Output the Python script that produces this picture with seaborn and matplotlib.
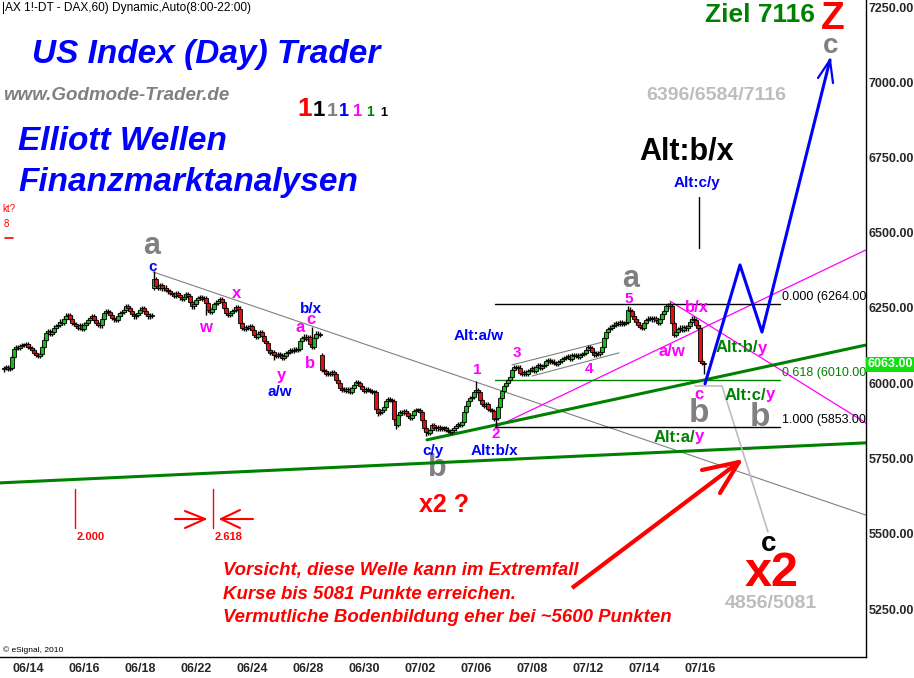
import numpy as np
import pandas as pd
import matplotlib
matplotlib.use("Agg")
import matplotlib.pyplot as plt
import seaborn as sns

sns.set_style("white")
plt.rcParams['font.family'] = ['Liberation Sans', 'DejaVu Sans']

# hourly closes, one value per 60 min bar
first_slot = 2
closes_june = [6050, 6055, 6048, 6052, 6088, 6115, 6120, 6118, 6124, 6128, 6126, 6130, 6122,
               6118, 6110, 6100, 6095, 6090, 6098, 6120, 6145, 6168, 6172, 6165, 6170, 6185,
               6190, 6195, 6205, 6200, 6215, 6225, 6228, 6215, 6200, 6196, 6190, 6185,
               6192, 6180, 6195, 6200, 6210, 6218, 6222, 6210, 6200, 6195, 6192, 6215, 6232,
               6240, 6236, 6228, 6218, 6212, 6210, 6225, 6232, 6238, 6245, 6255, 6250,
               6240, 6230, 6222, 6228, 6235, 6245, 6250, 6240, 6230, 6222, 6225, 6226]
closes_sept_a = [6345, 6322, 6318, 6325, 6315, 6318, 6310, 6305, 6300, 6296, 6290, 6300,
                 6292, 6285, 6280, 6288, 6295, 6290, 6270, 6255, 6262, 6275, 6282, 6285, 6280,
                 6284, 6265, 6245, 6238, 6248, 6262, 6268, 6272, 6280, 6270, 6250, 6235, 6228,
                 6232, 6240, 6245, 6252, 6248, 6200, 6184, 6180, 6188, 6185, 6190, 6178, 6160,
                 6155, 6165, 6170, 6158, 6140, 6135, 6110, 6100, 6104, 6095, 6090, 6098, 6094,
                 6085, 6092, 6100, 6105, 6110, 6108, 6112, 6110, 6115, 6140, 6150, 6155, 6148,
                 6152, 6130, 6120, 6150, 6165, 6162, 6160]
closes_sept_b = [6045, 6040, 6030, 6035, 6032, 6038, 6030, 6010, 6000, 5985, 5978, 5982, 5975,
                 5980, 5972, 5985, 5995, 6005, 6000, 5990, 5980, 5975, 5982, 5978, 5975, 5972,
                 5970, 5915, 5900, 5905, 5912, 5920, 5940, 5948, 5945, 5940, 5880, 5862, 5895,
                 5905, 5900, 5908, 5902, 5890, 5885, 5895, 5908, 5910, 5912, 5905, 5878, 5850,
                 5838, 5835, 5845, 5860, 5852, 5850, 5855, 5848, 5852, 5850, 5846, 5842, 5838,
                 5845, 5850, 5858, 5865, 5862, 5870, 5905, 5925, 5940, 5950, 5955, 5970, 5978,
                 5972, 5945, 5930, 5925, 5932, 5915, 5910, 5908, 5880, 5885, 5920, 5950, 5975,
                 5990, 6000, 6010, 6020, 6045, 6055, 6050, 6052, 6035, 6030, 6038, 6032, 6040,
                 6045, 6050, 6042, 6055, 6060, 6052, 6058, 6062, 6075, 6078, 6070, 6072, 6068,
                 6065, 6070, 6075, 6080, 6085, 6088, 6090, 6082, 6095, 6090, 6092, 6088, 6095,
                 6098, 6100, 6110, 6120, 6118, 6105, 6095, 6100, 6098, 6105, 6120, 6150, 6170,
                 6180, 6185, 6190, 6195, 6200, 6198, 6202, 6196, 6200, 6205, 6245, 6240, 6225,
                 6215, 6205, 6195, 6188, 6185, 6200, 6210, 6215, 6218, 6212, 6216, 6210, 6200,
                 6215, 6230, 6240, 6255, 6262, 6255, 6200, 6160, 6170, 6180, 6185, 6178, 6188,
                 6182, 6190, 6205, 6215, 6210, 6195, 6185, 6075, 6068, 6063]
first_open = 6046
gap_opens = {77: 6318, 161: 6094}
spike_highs = {77: 6372, 156: 6186, 238: 6006, 314: 6256, 334: 6268, 346: 6222}
spike_lows = {103: 6228, 137: 6078, 189: 5890, 198: 5848, 213: 5826, 248: 5858, 352: 6032}
wick = 7

tick_labels = ["06/14", "06/16", "06/18", "06/22", "06/24", "06/28", "06/30",
               "07/02", "07/06", "07/08", "07/12", "07/14", "07/16"]
price_ticks = [7250, 7000, 6750, 6500, 6250, 6000, 5750, 5500, 5250]
last_price = 6063

fib_ratios = ["0.000", "0.618", "1.000"]
fib_prices = [6264, 6010, 5853]
fib_colors = ["black", "#008000", "black"]

# projection path (blue) and alternative path (light grey)
proj_slots = [352.5, 370, 381, 415]
proj_prices = [5998, 6393, 6170, 7074]
alt_slots = [347.5, 361, 384]
alt_prices = [5991, 5991, 5506]

# trend lines: (slots, prices)
green_upper = ([213.5, 433], [5812, 6127])
green_lower = ([0, 433], [5669, 5802])
magenta_up = ([248, 433], [5855, 6443])
magenta_down = ([335, 433], [6273, 5868])
grey_down = ([76.5, 433], [6370, 5562])
channel_top = ([256, 301.5], [6061, 6137])
channel_bot = ([266, 309.5], [6024, 6101])

BLUE, MAG, GRN, RED, GREY, LGREY = "#0000FF", "#FF00FF", "#008000", "#FF0000", "#808080", "#BDBDBD"


def P(x, y):
    """pixel position on the 914x678 canvas -> (slot, price)"""
    return x / 2.0, 7250 - (y - 7) * 250 / 75.25


fig = plt.figure(figsize=(9.14, 6.78), dpi=100)
ax = fig.add_axes([0, 21 / 678, 866 / 914, 657 / 678])
ax.set_xlim(0, 433)
ax.set_ylim(P(0, 657)[1], P(0, 0)[1])

# candles
closes = np.array(closes_june + closes_sept_a + closes_sept_b, float)
slots = np.arange(first_slot, first_slot + len(closes))
opens = np.r_[first_open, closes[:-1]]
for s, o in gap_opens.items():
    opens[s - first_slot] = o
highs = np.maximum(opens, closes) + wick
lows = np.minimum(opens, closes) - wick
for s, h in spike_highs.items():
    highs[s - first_slot] = h
for s, l in spike_lows.items():
    lows[s - first_slot] = l
df = pd.DataFrame({"slot": slots, "open": opens, "close": closes, "high": highs, "low": lows})
df["bottom"] = df[["open", "close"]].min(axis=1)
df["height"] = (df["close"] - df["open"]).abs().clip(lower=3)
df["color"] = np.where(df["close"] >= df["open"], "#1DB81D", "#E01010")
ax.vlines(df["slot"], df["low"], df["high"], color="black", lw=1.0, zorder=3)
ax.bar(df["slot"], df["height"], bottom=df["bottom"], width=1.6, color=df["color"],
       edgecolor="black", linewidth=0.6, zorder=4)


def line(pts, color, lw, z=2):
    sns.lineplot(x=pts[0], y=pts[1], ax=ax, color=color, lw=lw, zorder=z, sort=False,
                 estimator=None)


line(grey_down, GREY, 0.8)
line(channel_top, GREY, 0.8)
line(channel_bot, GREY, 0.8)
line(magenta_up, MAG, 0.9)
line(magenta_down, MAG, 0.9)
line(green_upper, GRN, 2.2)
line(green_lower, GRN, 2.2)
line((alt_slots, alt_prices), LGREY, 1.2)
line((proj_slots, proj_prices), BLUE, 2.2, z=6)
# blue arrow head
tip = (proj_slots[-1], proj_prices[-1])
for hx, hy in [(818, 78), (833, 83)]:
    hs, hp = P(hx, hy)
    ax.plot([tip[0], hs], [tip[1], hp], color=BLUE, lw=1.6, zorder=6)

# fibonacci levels
for r, p, c in zip(fib_ratios, fib_prices, fib_colors):
    ax.plot([247.5, 390], [p, p], color=c, lw=1.0, zorder=2)
    ax.text(391, p + 24, f"{r} ({p:.2f})", color=c, fontsize=9, va="center", ha="left",
            clip_on=True, zorder=7)

# vertical marker line
ax.plot(*zip(P(699, 197), P(699, 248)), color="black", lw=1.0)

# red arrow
tail, head = P(572, 588), P(739, 462)
ax.plot([tail[0], head[0]], [tail[1], head[1]], color=RED, lw=3, zorder=6,
        solid_capstyle="butt")
for hx, hy in [(702, 470), (720, 493)]:
    hs, hp = P(hx, hy)
    ax.plot([head[0], hs], [head[1], hp], color=RED, lw=3, zorder=6)

# fib time markers
for xm, lab in [(75, "2.000"), (213, "2.618")]:
    ax.plot(*zip(P(xm, 489), P(xm, 528)), color=RED, lw=1.0)
    ax.text(*P(xm + 2, 537), lab, color=RED, fontsize=8, fontweight="bold",
            va="center", ha="left")
for seg in [[(175, 519), (205, 519)], [(185, 511), (205, 519), (185, 528)],
            [(221, 519), (253, 519)], [(240, 510), (221, 519), (240, 528)]]:
    xs, ys = zip(*[P(*q) for q in seg])
    ax.plot(xs, ys, color=RED, lw=1.5)


def T(x, y, s, color, size, bold=True, italic=False, ha="center", va="center", z=8):
    ax.text(*P(x, y), s, color=color, fontsize=size, fontweight="bold" if bold else "normal",
            fontstyle="italic" if italic else "normal", ha=ha, va=va, zorder=z)


# header texts
T(2, 8, "|AX 1!-DT - DAX,60) Dynamic,Auto(8:00-22:00)", "black", 8.6, bold=False, ha="left")
T(206, 55, "US Index (Day) Trader", BLUE, 24, italic=True)
T(3, 95, "www.Godmode-Trader.de", GREY, 13.5, italic=True, ha="left")
T(18, 141, "Elliott Wellen", BLUE, 24, italic=True, ha="left")
T(18, 182, "Finanzmarktanalysen", BLUE, 24, italic=True, ha="left")
for x1, c1, s1 in zip([297, 313, 327, 339, 353, 366, 380],
                      ["#FF0000", "black", GREY, BLUE, MAG, GRN, "black"],
                      [19, 16, 14, 13, 12, 10, 9]):
    T(x1, 116, "1", c1, s1, ha="left", va="baseline")
T(2, 209, "kt?", RED, 7, bold=False, ha="left")
T(4, 224, "8", RED, 7, bold=False, ha="left")
ax.plot(*zip(P(5, 238), P(13, 238)), color=RED, lw=1.2)

T(760, 15, "Ziel 7116", GRN, 19)
T(833, 19, "Z", RED, 28)
T(831, 46, "c", GREY, 20)
T(716, 96, "6396/6584/7116", LGREY, 14)
T(687, 152, "Alt:b/x", "black", 22)
T(697, 183, "Alt:c/y", BLUE, 11)

# wave labels
T(152, 246, "a", GREY, 22)
T(153, 267, "c", BLUE, 11)
T(237, 293, "x", MAG, 12)
T(205, 328, "w", MAG, 12)
T(311, 309, "b/x", BLUE, 11)
T(300, 327, "a", MAG, 12)
T(311, 320, "c", MAG, 12)
T(310, 363, "b", MAG, 12)
T(281, 375, "y", MAG, 12)
T(280, 392, "a/w", BLUE, 11)
T(433, 451, "c/y", BLUE, 11)
T(437, 468, "b", GREY, 22, z=1)
T(444, 505, "x2 ?", RED, 18)
T(477, 370, "1", MAG, 11)
T(496, 434, "2", MAG, 11)
T(494, 451, "Alt:b/x", BLUE, 11)
T(479, 336, "Alt:a/w", BLUE, 11)
T(517, 353, "3", MAG, 11)
T(589, 369, "4", MAG, 11)
T(631, 279, "a", GREY, 22)
T(629, 299, "5", MAG, 11)
T(697, 308, "b/x", MAG, 12)
T(672, 351, "a/w", MAG, 12)
T(758, 348, "Alt:b/", GRN, 12, ha="right")
T(758, 348, "y", MAG, 12, ha="left")
T(699, 394, "c", MAG, 12)
T(699, 413, "b", GREY, 24)
T(766, 395, "Alt:c/", GRN, 12, ha="right")
T(766, 395, "y", MAG, 12, ha="left")
T(760, 417, "b", GREY, 24)
T(695, 437, "Alt:a/", GRN, 12, ha="right")
T(695, 437, "y", MAG, 12, ha="left")

T(769, 544, "c", "black", 20)
T(772, 573, "x2", RED, 35)
T(771, 603, "4856/5081", LGREY, 14)

for i, s in enumerate(["Vorsicht, diese Welle kann im Extremfall",
                       "Kurse bis 5081 Punkte erreichen.",
                       "Vermutliche Bodenbildung eher bei ~5600 Punkten"]):
    T(223, 571 + 23 * i, s, RED, 13.4, italic=True, ha="left")

T(3, 650, "\u00a9 eSignal, 2010", "black", 6, bold=False, ha="left")

# axes
ax.yaxis.tick_right()
ax.set_yticks(price_ticks)
ax.set_yticklabels([f"{p:.2f}" for p in price_ticks], fontsize=9, fontweight="bold")
ax.set_xticks([14 + 28 * k for k in range(len(tick_labels))])
ax.set_xticklabels(tick_labels, fontsize=9, fontweight="bold")
ax.tick_params(axis="both", length=0, pad=2)
ax.tick_params(axis="x", pad=4)
for side in ["left", "top"]:
    ax.spines[side].set_visible(False)
for side in ["right", "bottom"]:
    ax.spines[side].set_color("black")
    ax.spines[side].set_linewidth(1.0)
ax.set_xlabel("")
ax.set_ylabel("")
ax.text(1.0015, last_price, f"{last_price:.2f}", transform=ax.get_yaxis_transform(),
        color="white", fontsize=9, fontweight="bold", va="center", ha="left",
        bbox=dict(facecolor="#10E010", edgecolor="none", pad=1.0), clip_on=False, zorder=9)

fig.savefig("out.png", dpi=100)
